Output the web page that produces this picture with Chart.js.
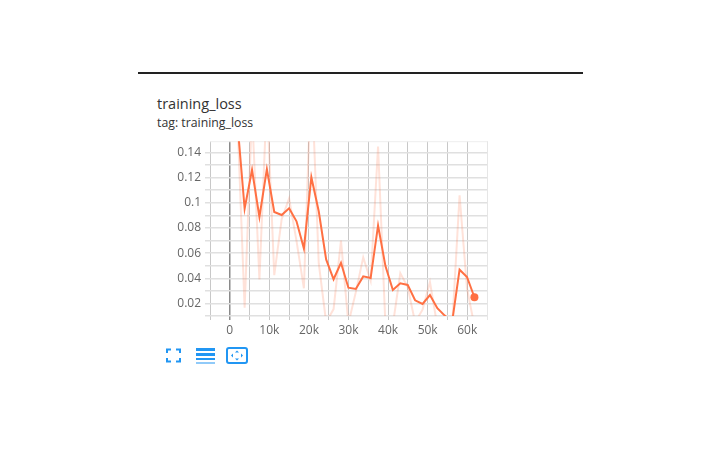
<!DOCTYPE html>
<html>
<head>
<meta charset="utf-8">
<script src="https://cdn.jsdelivr.net/npm/chart.js@4/dist/chart.umd.min.js"></script>
<style>
html,body{margin:0;padding:0;background:#fff;width:720px;height:450px;overflow:hidden;font-family:"Open Sans","Noto Sans",sans-serif}
#rule{position:absolute;left:138px;top:72px;width:445px;height:2px;background:#222}
#title{position:absolute;left:157px;top:94px;font-size:14.5px;line-height:20px;color:#333}
#tag{position:absolute;left:157px;top:115px;font-size:12.3px;line-height:16px;color:#333}
#wrap{position:absolute;left:150px;top:130px;width:345px;height:210px}
svg{position:absolute;left:160px;top:343px}
</style>
</head>
<body>
<div id="rule"></div>
<div id="title">training_loss</div>
<div id="tag">tag: training_loss</div>
<div id="wrap"><canvas id="c" width="345" height="210"></canvas></div>
<svg width="95" height="25" viewBox="0 0 95 25" fill="none">
  <path d="M7 10V6.500H11M16 6.500H20V10M20 15V18.500H16M11 18.500H7V15" stroke="#2196f3" stroke-width="2"/>
  <rect x="36" y="5" width="19" height="3" fill="#2196f3"/>
  <rect x="36" y="10" width="19" height="3" fill="#2196f3"/>
  <rect x="36" y="15" width="19" height="2" fill="#2196f3"/>
  <rect x="36" y="19" width="19" height="2" fill="#90caf9"/>
  <rect x="67" y="5" width="20" height="15" rx="2" stroke="#2196f3" stroke-width="2"/>
  <path d="M77 7.500L75 9.500H79ZM77 17.500L75 15.500H79ZM71 12.500L73 10.500V14.500ZM83 12.500L81 10.500V14.500Z" fill="#2196f3"/>
</svg>
<script>
const steps = [0,1870,3750,5620,7490,9370,11240,13110,14990,16860,18730,20610,22480,24350,26230,28100,29970,31850,33720,35590,37470,39340,41210,43090,44960,46830,48710,50580,52450,54330,56200,58070,59950,61820];
const smoothed = [0.17,0.166,0.0954,0.1263,0.0888,0.1268,0.0927,0.0903,0.0956,0.0853,0.0637,0.1204,0.0933,0.055,0.0392,0.0523,0.0325,0.0315,0.0415,0.0402,0.082,0.0497,0.0307,0.036,0.0347,0.0225,0.0196,0.0267,0.0162,0.0103,0.0056,0.0468,0.041,0.0249];
const raw = [0.17,0.172,0.0165,0.1726,0.039,0.184,0.0425,0.087,0.1036,0.0698,0.032,0.2055,0.052,0.005,0.0155,0.07,0.004,0.029,0.0566,0.038,0.1447,0.002,0.003,0.044,0.033,0.005,0.015,0.037,0.002,0.003,0.002,0.106,0.032,0.002];
const xTicks = [-5000,0,5000,10000,15000,20000,25000,30000,35000,40000,45000,50000,55000,60000,65000];
const yTicks = [0.01,0.02,0.03,0.04,0.05,0.06,0.07,0.08,0.09,0.1,0.11,0.12,0.13,0.14];
const xLabels = {0:"0",10000:"10k",20000:"20k",30000:"30k",40000:"40k",50000:"50k",60000:"60k"};
const yLabels = {0.02:"0.02",0.04:"0.04",0.06:"0.06",0.08:"0.08",0.1:"0.1",0.12:"0.12",0.14:"0.14"};
const tickFont = {family:"'Open Sans','Noto Sans',sans-serif", size:12};

new Chart(document.getElementById('c'), {
  type:'line',
  data:{datasets:[
    {label:'raw', data:steps.map((x,i)=>({x,y:raw[i]})), borderColor:'rgba(255,112,67,0.2)', borderWidth:2, pointRadius:0, tension:0, order:2},
    {label:'training_loss', data:steps.map((x,i)=>({x,y:smoothed[i]})), borderColor:'#ff7043', backgroundColor:'#ff7043', borderWidth:2,
     pointRadius:c=>c.dataIndex===steps.length-1?4:0, pointBorderWidth:0, tension:0, order:1}
  ]},
  options:{
    responsive:false, animation:false,
    layout:{padding:{top:10,right:8,left:0,bottom:0}},
    plugins:{legend:{display:false},title:{display:false},tooltip:{enabled:false}},
    scales:{
      x:{type:'linear', min:-5000, max:65000,
        afterBuildTicks:a=>{a.ticks=xTicks.map(value=>({value}));},
        afterFit:a=>{a.height=24;a.paddingLeft=0;a.paddingRight=0;},
        border:{display:false},
        grid:{color:c=>c.tick&&c.tick.value===0?'#8a8a8a':(c.tick&&c.tick.value===65000?'#e6e6e6':'#c8c8c8'),
              lineWidth:c=>c.tick&&c.tick.value===0?1.5:1, tickLength:4, drawTicks:true},
        ticks:{autoSkip:false,maxRotation:0,minRotation:0,padding:3,color:'#666',font:tickFont,callback:v=>xLabels[v]||''}
      },
      y:{type:'linear', min:0.01, max:0.149,
        afterBuildTicks:a=>{a.ticks=yTicks.map(value=>({value}));},
        afterFit:a=>{a.width=60;},
        border:{display:false},
        grid:{color:'#e0e0e0', lineWidth:1.5, tickLength:5},
        ticks:{autoSkip:false,padding:4,color:'#666',font:tickFont,callback:v=>yLabels[v]||''}
      }
    }
  },
  plugins:[{id:'topEdge',beforeDatasetsDraw(ch){const a=ch.chartArea,g=ch.ctx;g.save();g.strokeStyle='#eee';g.lineWidth=1;g.beginPath();g.moveTo(a.left,a.top+.5);g.lineTo(a.right,a.top+.5);g.stroke();g.restore();}}]
});
</script>
</body>
</html>
